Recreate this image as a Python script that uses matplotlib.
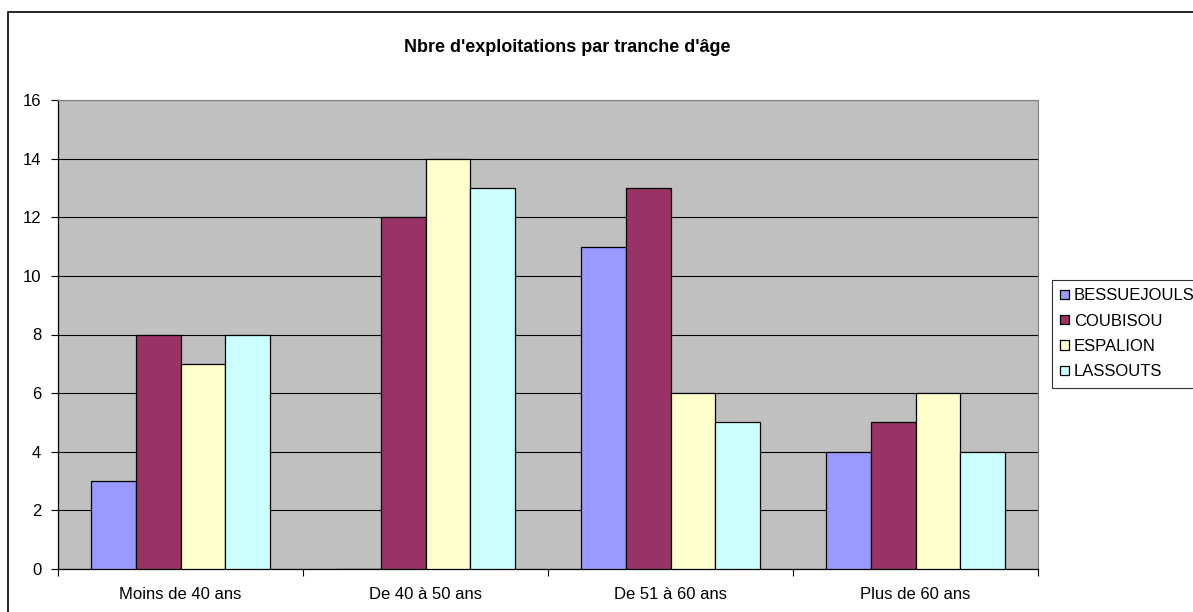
import numpy as np
import matplotlib
matplotlib.use("Agg")
import matplotlib.pyplot as plt
from matplotlib.patches import Rectangle

# données
tranches = ["Moins de 40 ans", "De 40 à 50 ans", "De 51 à 60 ans", "Plus de 60 ans"]
communes = ["BESSUEJOULS", "COUBISOU", "ESPALION", "LASSOUTS"]
bessuejouls = [3, 0, 11, 4]
coubisou = [8, 12, 13, 5]
espalion = [7, 14, 6, 6]
lassouts = [8, 13, 5, 4]
couleurs = ["#9999FF", "#993366", "#FFFFCC", "#CCFFFF"]

plt.rcParams['font.family'] = ['Liberation Sans', 'DejaVu Sans']

fig = plt.figure(figsize=(11.93, 6.12), dpi=100)
W, H = 1193, 612

# cadre extérieur du graphique (style Excel)
fig.patches.append(Rectangle((8 / W, -0.1), 1.2, 1 - 12 / H + 0.1, transform=fig.transFigure,
                             fill=False, edgecolor="black", linewidth=1.2))

ax = fig.add_axes([58 / W, 1 - 569 / H, (1038 - 58) / W, (569 - 100) / H])
ax.set_facecolor("#C0C0C0")

x = np.arange(len(tranches))
largeur = 1 / (4 + 1.5)
series = [bessuejouls, coubisou, espalion, lassouts]
for i, (nom, vals) in enumerate(zip(communes, series)):
    ax.bar(x - 2 * largeur + (i + 0.5) * largeur, vals, width=largeur, color=couleurs[i],
           edgecolor="black", linewidth=0.9, label=nom, zorder=3)

ax.set_xlim(-0.5, 3.5)
ax.set_ylim(0, 16)
ax.set_yticks(range(0, 17, 2))
ax.yaxis.grid(True, color="black", linewidth=0.8, zorder=1)
ax.set_axisbelow(True)

ax.set_xticks(x)
ax.set_xticklabels(tranches)
ax.set_xticks(np.arange(-0.5, 4, 1), minor=True)
ax.tick_params(axis="x", which="major", length=0, pad=13, labelsize=12)
ax.tick_params(axis="x", which="minor", length=5, width=0.8, direction="out")
ax.tick_params(axis="y", length=5, width=0.8, direction="out", pad=7, labelsize=12)

for s in ["top", "right"]:
    ax.spines[s].set_color("#808080")
for s in ["left", "bottom"]:
    ax.spines[s].set_color("black")
    ax.spines[s].set_linewidth(0.9)

fig.text(567 / W, 1 - 48 / H, "Nbre d'exploitations par tranche d'âge",
         ha="center", va="center", fontsize=13, fontweight="bold")

leg = fig.legend(loc="upper left", bbox_to_anchor=(1052 / W, 1 - 280 / H),
                 fontsize=12, frameon=True, fancybox=False, handlelength=0.5,
                 handleheight=0.5, handletextpad=0.3, labelspacing=0.62,
                 borderpad=0.5, borderaxespad=0)
leg.get_frame().set_edgecolor("black")
leg.get_frame().set_linewidth(0.8)

fig.savefig("out.png", dpi=100)
